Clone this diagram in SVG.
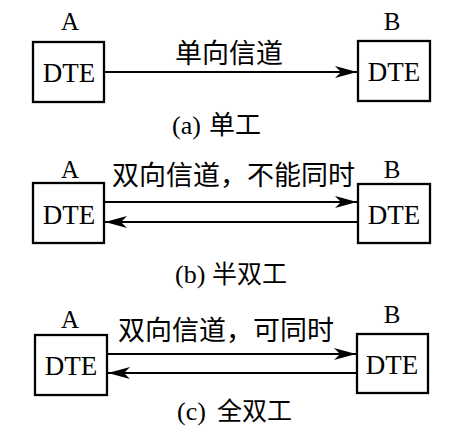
<svg xmlns="http://www.w3.org/2000/svg" width="458" height="434" viewBox="0 0 458 434">
<defs>
<style>
.box{fill:#fff;stroke:#000;stroke-width:2.3}
.ln{fill:none;stroke:#000;stroke-width:2}
.lat{font-family:"Liberation Serif","Times New Roman",serif;fill:#000}
.cjk{font-family:"Noto Sans CJK SC","Noto Sans CJK TC",sans-serif;fill:#000}
.dte{font-size:27px;text-anchor:middle}
.lbl{font-size:25px;text-anchor:middle}
.ch{font-size:27px}
.cap{font-size:26px}
</style>
<marker id="arr" markerUnits="userSpaceOnUse" markerWidth="22" markerHeight="12" viewBox="0 0 22 12" refX="22" refY="6" orient="auto">
<path d="M0,0 L22,6 L0,12 L6,6 Z" fill="#000"/>
</marker>
</defs>
<rect width="458" height="434" fill="#fff"/>

<g id="panel-a">
<g id="a-A">
<text class="lat lbl" x="70" y="30">A</text>
<rect class="box" x="33" y="42" width="71" height="60"/>
<text class="lat dte" x="69" y="82">DTE</text>
</g>
<g id="a-B">
<text class="lat lbl" x="392" y="30">B</text>
<rect class="box" x="358" y="41" width="72" height="60"/>
<text class="lat dte" x="394" y="81">DTE</text>
</g>
<text class="cjk ch" x="175" y="63">单向信道</text>
<text class="lat cap" x="172" y="134">(a) <tspan class="cjk" x="209" font-size="26">单工</tspan></text>
</g>

<g id="panel-b">
<g id="b-A">
<text class="lat lbl" x="70" y="178">A</text>
<rect class="box" x="33" y="183" width="71" height="60"/>
<text class="lat dte" x="69" y="224">DTE</text>
</g>
<g id="b-B">
<text class="lat lbl" x="392" y="178">B</text>
<rect class="box" x="358" y="184" width="72" height="59"/>
<text class="lat dte" x="394" y="224">DTE</text>
</g>
<text class="cjk ch" x="112" y="185">双向信道，不能同时</text>
<text class="lat cap" x="175" y="283">(b)<tspan class="cjk" x="212" font-size="25">半双工</tspan></text>
</g>

<g id="panel-c">
<g id="c-A">
<text class="lat lbl" x="70" y="328">A</text>
<rect class="box" x="35" y="335" width="72" height="60"/>
<text class="lat dte" x="71" y="375">DTE</text>
</g>
<g id="c-B">
<text class="lat lbl" x="392" y="323">B</text>
<rect class="box" x="357" y="334" width="71" height="59"/>
<text class="lat dte" x="392" y="374">DTE</text>
</g>
<text class="cjk ch" x="118" y="340">双向信道，可同时</text>
<text class="lat cap" x="177" y="420">(c) <tspan class="cjk" x="217" font-size="25">全双工</tspan></text>
</g>

<g id="connectors">
<line class="ln" x1="104" y1="72" x2="357" y2="72" marker-end="url(#arr)"/>
<line class="ln" x1="104" y1="202" x2="357" y2="202" marker-end="url(#arr)"/>
<line class="ln" x1="358" y1="222" x2="105" y2="222" marker-end="url(#arr)"/>
<line class="ln" x1="107" y1="354" x2="356" y2="354" marker-end="url(#arr)"/>
<line class="ln" x1="357" y1="373" x2="108" y2="373" marker-end="url(#arr)"/>
</g>
</svg>
